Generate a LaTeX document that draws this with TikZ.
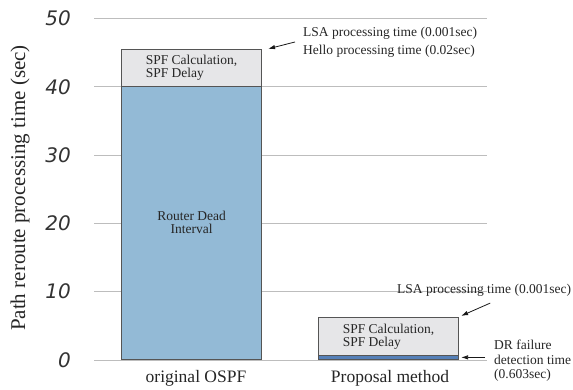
\documentclass[tikz,border=0pt]{standalone}
\usepackage{fontspec}
\setmainfont{Liberation Serif}
\newfontfamily\tickfont{DejaVu Sans}
\usetikzlibrary{arrows.meta,positioning,calc}
\definecolor{cBarF}{HTML}{93BAD6}
\definecolor{cTopF}{HTML}{E6E6E8}
\definecolor{cBandF}{HTML}{5580B8}
\definecolor{cEdge}{HTML}{555555}
\definecolor{cGrid}{HTML}{BDBDBD}
\def\vzero{29}
\def\vscale{6.83}
\tikzset{
  seg/.style={draw=cEdge,line width=1.1pt,anchor=south west,inner sep=0pt,
      minimum width=140pt,align=left,text=black!85,
      font=\fontsize{13.5}{13}\selectfont},
  segblue/.style={seg,fill=cBarF},
  seggray/.style={seg,fill=cTopF},
  segband/.style={seg,fill=cBandF},
  gridln/.style={draw=cGrid,line width=0.9pt},
  ticklab/.style={font=\tickfont\itshape\fontsize{20}{22}\selectfont,text=black!80,
      inner sep=0pt},
  catlab/.style={font=\fontsize{17.5}{20}\selectfont,text=black!85,inner sep=1pt},
  ylab/.style={font=\fontsize{21}{24}\selectfont,text=black!85,inner sep=1pt},
  annot/.style={font=\fontsize{13.5}{18}\selectfont,text=black!85,inner sep=1pt,
      align=left},
  annarrow/.style={-{Latex[length=7pt,width=4.5pt]},line width=0.8pt,draw=black!90},
}
\newcommand{\barseg}[6]{%
  \node[#5,minimum height={(#3-#2)*\vscale}] (#4) at (#1,{\vzero+#2*\vscale}) {#6};}

\begin{document}
\begin{tikzpicture}[x=1pt,y=1pt]
  \useasboundingbox (0,0) rectangle (573,389);

  \foreach \v in {0,10,...,50}{
    \draw[gridln] (94,{\vzero+\v*\vscale}) -- (487,{\vzero+\v*\vscale});
    \node[ticklab,anchor=east] (t\v) at (71,{\vzero+\v*\vscale}) {\v};
  }
  \node[ylab,rotate=90] (yl) at (20,201) {Path reroute processing time (sec)};

  % original OSPF
  \barseg{121}{0}{40}{b1dead}{segblue}{\fontsize{13.5}{16}\selectfont
    \hfil Router Dead\hfil\\\hfil Interval\hfil}
  \barseg{121}{40}{45.4}{b1top}{seggray}{SPF Calculation,\\SPF Delay}
  % proposal method
  \barseg{318}{0}{0.603}{b2band}{segband}{}
  \barseg{318}{0.603}{6.15}{b2top}{seggray}{SPF Calculation,\\SPF Delay}

  \node[catlab] (c1) at (196,11) {original OSPF};
  \node[catlab] (c2) at (390,11) {Proposal method};

  \node[annot,anchor=west] (hello) at (302,347)
    {LSA processing time (0.001sec)\\Hello processing time (0.02sec)};
  \draw[annarrow] ([xshift=-7pt]hello.west) -- ([xshift=6pt]b1top.north east);

  \node[annot,anchor=base west] (lsa2) at (396,96)
    {LSA processing time (0.001sec)};
  \draw[annarrow] ([xshift=6pt,yshift=-6pt]lsa2.south) -- ([xshift=2pt,yshift=1pt]b2top.north east);

  \node[annot,anchor=west,font=\fontsize{13.5}{14.5}\selectfont] (dr) at (493,28)
    {DR failure\\detection time\\(0.603sec)};
  \draw[annarrow] ([xshift=-8pt]dr.west |- b2band.east) -- ([xshift=2pt]b2band.east);
\end{tikzpicture}
\end{document}
